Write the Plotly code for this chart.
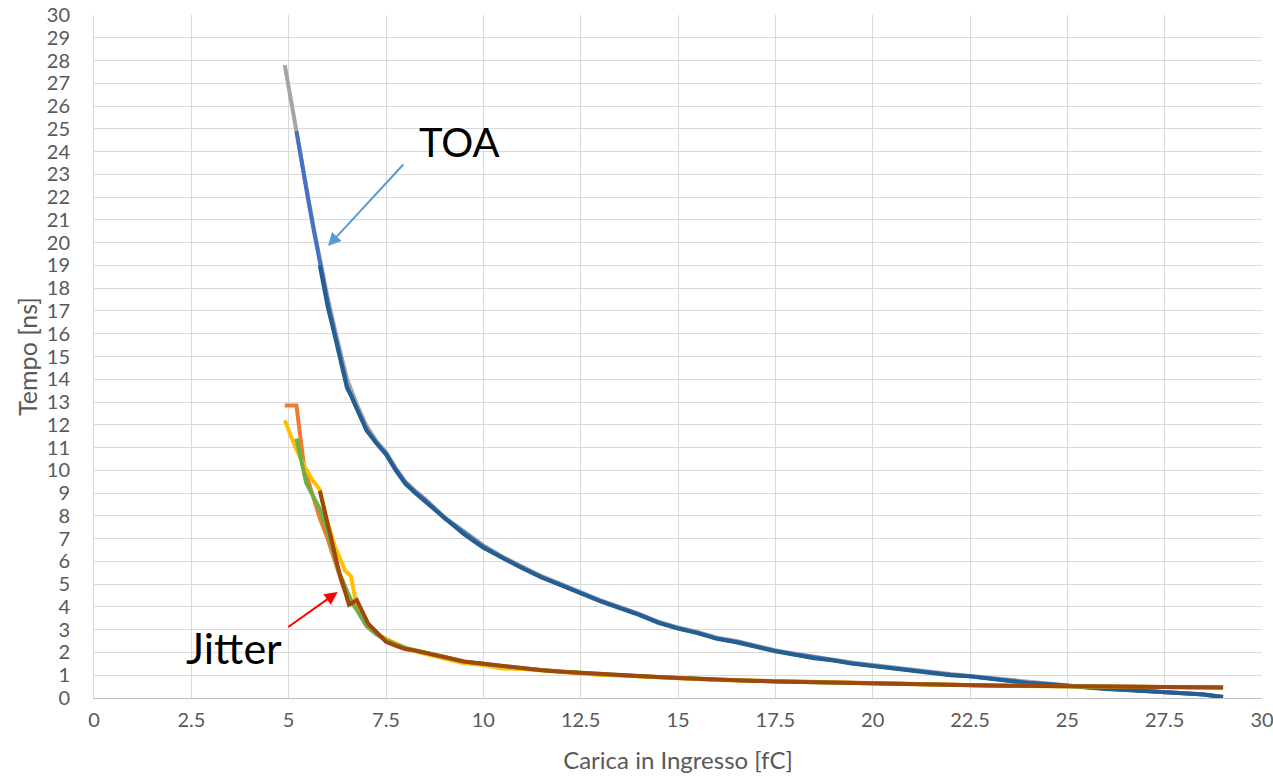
import plotly.graph_objects as go

# ---- data ----
X_TAIL = [7.5, 7.75, 8.0, 8.25, 8.5, 9.0, 9.5, 10.0, 10.5, 11.0, 11.5, 12.0, 12.5, 13.0, 13.5,
          14.0, 14.5, 15.0, 15.5, 16.0, 16.5, 17.0, 17.5, 18.0, 18.5, 19.0, 19.5, 20.0,
          20.5, 21.0, 21.5, 22.0, 22.5, 23.0, 23.5, 24.0, 24.5, 25.0, 25.5, 26.0, 26.5,
          27.0, 27.5, 28.0, 28.5, 29.0]

# TOA series
toa_gray_x_head = [4.9, 5.05, 5.2, 5.35, 5.5, 5.65, 5.8, 6.0, 6.2, 6.35, 6.5, 6.75, 7.0, 7.25]
toa_gray_y_head = [27.8, 26.3, 24.9, 23.4, 22.0, 20.6, 19.3, 17.6, 16.1, 15.0, 14.0, 12.9,
                   11.95, 11.3]
toa_gray_y_tail = [10.8, 10.1, 9.5, 9.1, 8.75, 7.95, 7.3, 6.7, 6.2, 5.75, 5.35, 5.0, 4.65,
                   4.3, 4.0, 3.7, 3.35, 3.1, 2.9, 2.65, 2.5, 2.3, 2.1, 1.95, 1.8, 1.68,
                   1.55, 1.45, 1.32, 1.22, 1.12, 1.05, 0.97, 0.88, 0.8, 0.72, 0.62, 0.54,
                   0.47, 0.42, 0.37, 0.32, 0.28, 0.22, 0.16, 0.05]

toa_blue_x_head = [5.2, 5.35, 5.5, 5.65, 5.8, 6.0, 6.2, 6.35, 6.5, 6.75, 7.0, 7.25]
toa_blue_y_head = [24.9, 23.3, 21.9, 20.5, 19.2, 17.4, 15.9, 14.8, 13.7, 12.7, 11.8, 11.2]
toa_blue_y_tail = [10.75, 10.05, 9.45, 9.05, 8.7, 7.9, 7.25, 6.65, 6.15, 5.7, 5.3, 4.97, 4.62,
                   4.27, 3.97, 3.67, 3.32, 3.07, 2.87, 2.62, 2.47, 2.27, 2.07, 1.92, 1.77,
                   1.66, 1.52, 1.42, 1.31, 1.21, 1.11, 1.02, 0.96, 0.86, 0.77, 0.67, 0.61,
                   0.53, 0.46, 0.41, 0.36, 0.31, 0.27, 0.21, 0.15, 0.04]

toa_dark_x_head = [5.8, 6.0, 6.2, 6.35, 6.5, 6.6, 7.0, 7.25]
toa_dark_y_head = [19.0, 17.2, 15.8, 14.6, 13.6, 13.3, 11.75, 11.2]
toa_dark_y_tail = [10.7, 10.0, 9.4, 9.0, 8.65, 7.9, 7.2, 6.6, 6.15, 5.7, 5.3, 4.95, 4.6,
                   4.25, 3.95, 3.65, 3.3, 3.05, 2.85, 2.6, 2.45, 2.25, 2.05, 1.9, 1.75,
                   1.65, 1.5, 1.4, 1.3, 1.2, 1.1, 1.0, 0.95, 0.85, 0.75, 0.65, 0.6, 0.52,
                   0.45, 0.4, 0.35, 0.3, 0.27, 0.2, 0.15, 0.04]

# Jitter series
jit_orange_x_head = [4.9, 5.2, 5.4, 5.6, 5.8, 6.0, 6.2, 6.4, 6.6, 6.8, 7.0, 7.25]
jit_orange_y_head = [12.85, 12.85, 10.1, 9.0, 7.9, 7.0, 5.9, 4.9, 4.2, 3.8, 3.25, 2.85]
jit_orange_y_tail = [2.5, 2.3, 2.15, 2.07, 2.0, 1.78, 1.58, 1.48, 1.36, 1.29, 1.22, 1.15,
                     1.1, 1.03, 1.0, 0.95, 0.92, 0.88, 0.84, 0.8, 0.78, 0.75, 0.73, 0.71,
                     0.69, 0.67, 0.65, 0.63, 0.61, 0.6, 0.59, 0.58, 0.56, 0.55, 0.54, 0.53,
                     0.52, 0.51, 0.5, 0.5, 0.49, 0.48, 0.48, 0.47, 0.47, 0.46]

jit_yellow_x_head = [4.9, 5.15, 5.4, 5.6, 5.8, 6.0, 6.2, 6.45, 6.6, 6.75, 7.0, 7.25]
jit_yellow_y_head = [12.2, 11.1, 10.2, 9.6, 9.15, 7.7, 6.6, 5.6, 5.35, 4.0, 3.3, 2.85]
jit_yellow_y_tail = [2.6, 2.4, 2.2, 2.05, 1.95, 1.72, 1.52, 1.45, 1.3, 1.27, 1.2, 1.14, 1.08,
                     1.02, 0.99, 0.94, 0.91, 0.87, 0.83, 0.79, 0.77, 0.74, 0.72, 0.7, 0.68,
                     0.66, 0.64, 0.62, 0.6, 0.59, 0.58, 0.57, 0.55, 0.54, 0.53, 0.52, 0.51,
                     0.5, 0.5, 0.49, 0.48, 0.48, 0.47, 0.47, 0.46, 0.46]

jit_green_x_head = [5.2, 5.45, 5.8, 6.0, 6.3, 6.6, 7.0, 7.25]
jit_green_y_head = [11.4, 9.45, 8.3, 7.3, 5.5, 4.3, 3.15, 2.8]
jit_green_y_tail = [2.55, 2.35, 2.2, 2.1, 2.02, 1.8, 1.6, 1.5, 1.4, 1.32, 1.23, 1.16, 1.1,
                    1.03, 1.0, 0.95, 0.92, 0.88, 0.84, 0.8, 0.78, 0.75, 0.73, 0.71, 0.69,
                    0.67, 0.65, 0.63, 0.61, 0.6, 0.59, 0.58, 0.56, 0.55, 0.54, 0.53, 0.52,
                    0.51, 0.5, 0.5, 0.49, 0.48, 0.48, 0.47, 0.47, 0.46]

jit_brown_x_head = [5.8, 6.0, 6.15, 6.3, 6.55, 6.75, 7.05, 7.25]
jit_brown_y_head = [9.1, 7.6, 6.5, 5.5, 4.1, 4.3, 3.25, 2.9]
jit_brown_y_tail = [2.47, 2.3, 2.15, 2.08, 2.0, 1.8, 1.6, 1.5, 1.38, 1.3, 1.22, 1.15, 1.1,
                    1.03, 1.0, 0.95, 0.92, 0.88, 0.84, 0.8, 0.78, 0.75, 0.73, 0.71, 0.69,
                    0.67, 0.65, 0.63, 0.61, 0.6, 0.59, 0.58, 0.56, 0.55, 0.54, 0.53, 0.52,
                    0.51, 0.5, 0.5, 0.49, 0.48, 0.48, 0.47, 0.47, 0.46]

X_TICKS = [0, 2.5, 5, 7.5, 10, 12.5, 15, 17.5, 20, 22.5, 25, 27.5, 30]

series = [
    ("TOA 1", toa_blue_x_head, toa_blue_y_head, toa_blue_y_tail, "#4472C4"),
    ("Jitter 1", jit_orange_x_head, jit_orange_y_head, jit_orange_y_tail, "#ED7D31"),
    ("TOA 2", toa_gray_x_head, toa_gray_y_head, toa_gray_y_tail, "#A5A5A5"),
    ("Jitter 2", jit_yellow_x_head, jit_yellow_y_head, jit_yellow_y_tail, "#FFC000"),
    ("Jitter 3", jit_green_x_head, jit_green_y_head, jit_green_y_tail, "#70AD47"),
    ("TOA 3", toa_dark_x_head, toa_dark_y_head, toa_dark_y_tail, "#255E91"),
    ("Jitter 4", jit_brown_x_head, jit_brown_y_head, jit_brown_y_tail, "#9E480E"),
]

# draw order: grey/blue first so the darker overlays are on top
order = [2, 0, 5, 1, 3, 4, 6]

fig = go.Figure()
for i in order:
    name, xh, yh, yt, col = series[i]
    fig.add_trace(go.Scatter(
        x=list(xh) + X_TAIL, y=list(yh) + list(yt), mode="lines", name=name,
        line=dict(color=col, width=4), showlegend=False))

FONT = "Lato, 'Open Sans', sans-serif"

fig.update_layout(
    width=1273, height=783,
    margin=dict(l=94, r=11, t=15, b=85),
    paper_bgcolor="white", plot_bgcolor="white",
    font=dict(family=FONT, color="#595959", size=20),
    xaxis=dict(range=[0, 30], tickvals=X_TICKS, showgrid=True, gridcolor="#D9D9D9",
               gridwidth=1, zeroline=False, showline=True, linecolor="#BFBFBF", linewidth=1,
               ticks="", ticklabelstandoff=4, automargin=False, ticklabeloverflow="allow",
               tickfont=dict(size=20, color="#595959"),
               title=dict(text="Carica in Ingresso [fC]", font=dict(size=24, color="#595959"),
                          standoff=22)),
    yaxis=dict(range=[0, 30], dtick=1, showgrid=True, gridcolor="#D9D9D9", gridwidth=1,
               zeroline=False, showline=True, linecolor="#D9D9D9", linewidth=1,
               ticks="", ticklabelstandoff=19, automargin=False, ticklabeloverflow="allow",
               tickfont=dict(size=20, color="#595959"),
               title=dict(text="Tempo [ns]", font=dict(size=25, color="#595959"), standoff=2)),
)

# annotations
fig.add_annotation(x=6.01, y=19.85, ax=7.98, ay=23.5, xref="x", yref="y", axref="x", ayref="y",
                   text="", showarrow=True, arrowhead=2, arrowsize=1.3, arrowwidth=2,
                   arrowcolor="#5B9BD5")
fig.add_annotation(x=9.38, y=24.4, xref="x", yref="y", text="TOA", showarrow=False,
                   font=dict(family=FONT, size=40, color="#000000"))
fig.add_annotation(x=6.26, y=4.66, ax=4.95, ay=3.07, xref="x", yref="y", axref="x", ayref="y",
                   text="", showarrow=True, arrowhead=2, arrowsize=1.3, arrowwidth=2,
                   arrowcolor="#FF0000")
fig.add_annotation(x=3.6, y=2.2, xref="x", yref="y", text="Jitter", showarrow=False,
                   font=dict(family=FONT, size=43, color="#000000"))

fig.write_html("out.html")
